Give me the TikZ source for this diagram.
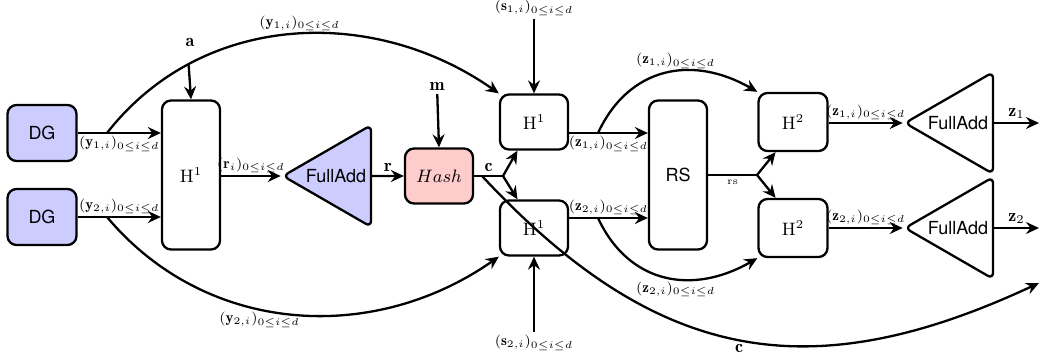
\documentclass[tikz,border=0pt]{standalone}
\usepackage{fontspec}
\setsansfont{TeX Gyre Heros}
\usetikzlibrary{arrows.meta,shapes.geometric,calc}
\begin{document}
\begin{tikzpicture}[x=0.5pt,y=-0.5pt,
  line width=1.15pt,
  >={Stealth[length=6.5pt,width=6pt,inset=2.2pt]},
  box/.style={draw,rounded corners=4.5pt,inner sep=0pt,font=\small},
  dgbox/.style={box,fill=blue!20,minimum width=34.5pt,minimum height=28pt,font=\small\sffamily},
  hbox/.style={box,minimum width=34pt,minimum height=27.5pt},
  tallbox/.style={box,minimum width=29pt,minimum height=74.5pt},
  adder/.style={draw,isosceles triangle,shape border rotate=180,isosceles triangle apex angle=60,minimum height=44pt,minimum width=50.5pt,inner sep=1pt,rounded corners=3pt,font=\small\sffamily},
  lab/.style={font=\fontsize{7.5}{9}\selectfont,inner sep=1pt},
  blab/.style={font=\small,inner sep=1.5pt}
]
\useasboundingbox (0,0) rectangle (1040,364);

% nodes
\node[dgbox] (dg1) at (42,133) {DG};
\node[dgbox] (dg2) at (42,217) {DG};
\node[tallbox] (h1a) at (191,175) {H$^1$};
\node[adder,fill=blue!20] (fa1) at (336,176) {FullAdd};
\node[box,fill=red!20,minimum width=34pt,minimum height=27.5pt] (hash) at (439,176) {$Hash$};
\node[hbox] (h1t) at (534,122) {H$^1$};
\node[hbox] (h1b) at (534,228) {H$^1$};
\node[tallbox,font=\small\sffamily] (rs) at (678,175) {RS};
\node[hbox,minimum width=34.5pt,minimum height=29pt] (h2t) at (793,122) {H$^2$};
\node[hbox,minimum width=34.5pt,minimum height=29pt] (h2b) at (793,228) {H$^2$};
\node[adder] (fa2) at (958,123) {FullAdd};
\node[adder] (fa3) at (958,228) {FullAdd};

\node[blab] (a) at (190,42) {$\mathbf{a}$};
\node[blab] (m) at (437,86) {$\mathbf{m}$};
\node[lab] (s1) at (534,8) {$(\mathbf{s}_{1,i})_{0\le i\le d}$};
\node[lab] (s2) at (534,343) {$(\mathbf{s}_{2,i})_{0\le i\le d}$};

\coordinate (y1s) at (107,133);
\coordinate (y2s) at (107,217);
\coordinate (cb) at (503,176);
\coordinate (cs) at (482,176);
\coordinate (cend) at (1039,283);
\coordinate (z1s) at (598,133);
\coordinate (z2s) at (598,218);
\coordinate (rb) at (757,175);
\coordinate (o1) at (1039,122);
\coordinate (o2) at (1039,228);

% connectors
\draw[->] (dg1.east) -- (dg1.east -| h1a.west) node[lab,below,midway] {$(\mathbf{y}_{1,i})_{0\le i\le d}$};
\draw[->] (dg2.east) -- (dg2.east -| h1a.west) node[lab,above,midway] {$(\mathbf{y}_{2,i})_{0\le i\le d}$};
\draw[->] (y1s) to[out=52,in=145] coordinate[pos=0.245] (as) node[lab,above,pos=0.52] {$(\mathbf{y}_{1,i})_{0\le i\le d}$} (h1t.north west);
\draw[->] (y2s) to[out=-50,in=-145] node[lab,below,pos=0.42] {$(\mathbf{y}_{2,i})_{0\le i\le d}$} (h1b.south west);
\draw[->] (as) -- (h1a.north);
\draw[->] (fa1.apex -| h1a.east) -- (fa1.apex) node[lab,above,midway] {$(\mathbf{r}_i)_{0\le i\le d}$};
\draw[->] (fa1.east) -- (hash.west) node[blab,above,midway] {$\mathbf{r}$};
\draw[->] (m) -- (hash.north);
\draw (hash.east) -- (cb) node[blab,above,midway] {$\mathbf{c}$};
\draw[->] (cb) -- (h1t.240);
\draw[->] (cb) -- (h1b.120);
\draw[->] (cs) to[out=-47,in=-155,looseness=1.15] node[blab,below,pos=0.5] {$\mathbf{c}$} (cend);
\draw[->] (s1) -- (h1t.north);
\draw[->] (s2) -- (h1b.south);
\draw[->] (h1t.east |- z1s) -- (rs.west |- z1s) node[lab,below,midway] {$(\mathbf{z}_{1,i})_{0\le i\le d}$};
\draw[->] (h1b.east |- z2s) -- (rs.west |- z2s) node[lab,above,midway] {$(\mathbf{z}_{2,i})_{0\le i\le d}$};
\draw[->] (z1s) to[out=65,in=150,looseness=1.15] node[lab,above,pos=0.56] {$(\mathbf{z}_{1,i})_{0\le i\le d}$} (h2t.north west);
\draw[->] (z2s) to[out=-65,in=-150,looseness=1.15] node[lab,below,pos=0.56] {$(\mathbf{z}_{2,i})_{0\le i\le d}$} (h2b.south west);
\draw (rs.east) -- (rb) node[font=\tiny,below,midway,inner sep=2pt] {rs};
\draw[->] (rb) -- (h2t.240);
\draw[->] (rb) -- (h2b.120);
\draw[->] (fa2.apex -| h2t.east) -- (fa2.apex) node[lab,above,midway] {$(\mathbf{z}_{1,i})_{0\le i\le d}$};
\draw[->] (fa3.apex -| h2b.east) -- (fa3.apex) node[lab,above,midway] {$(\mathbf{z}_{2,i})_{0\le i\le d}$};
\draw[->] (fa2.east) -- (o1 |- fa2.east) node[blab,above,midway] {$\mathbf{z}_1$};
\draw[->] (fa3.east) -- (o2 |- fa3.east) node[blab,above,midway] {$\mathbf{z}_2$};
\end{tikzpicture}
\end{document}
